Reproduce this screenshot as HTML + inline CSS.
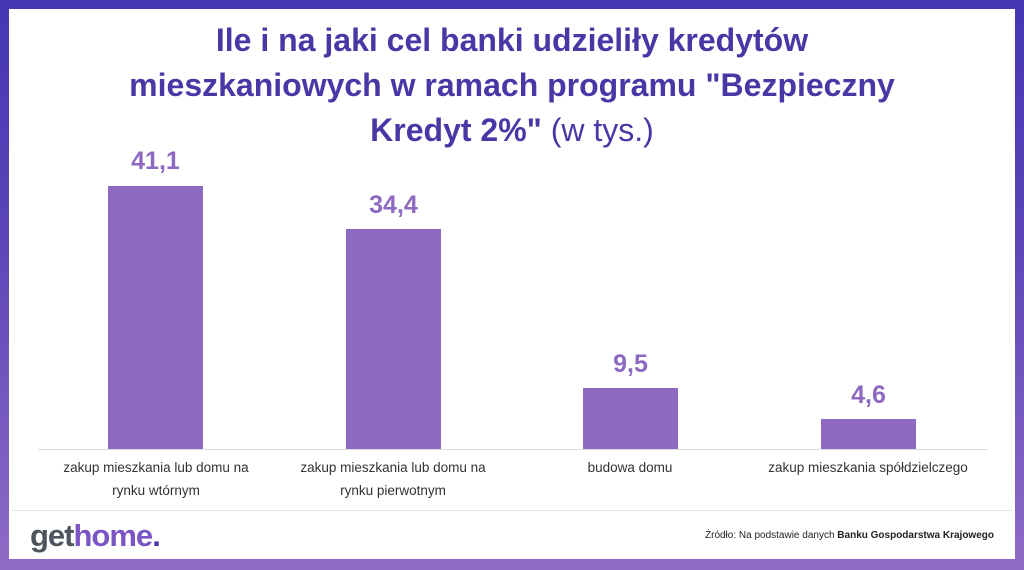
<!DOCTYPE html>
<html><head><meta charset="utf-8"><style>
body{margin:0;width:1024px;height:570px;background:linear-gradient(#4636b4,#5a44b8 40%,#8f6bc6);font-family:"Liberation Sans","DejaVu Sans",sans-serif;position:relative;overflow:hidden}
.in{position:absolute;left:9px;top:9px;width:1006px;height:550px;background:#fff}
.t{position:absolute;left:0;width:1024px;text-align:center;color:#4a37a6;font-weight:bold;font-size:32px;line-height:41px}
.bar{position:absolute;background:#8e69c1;width:95px}
.v{position:absolute;width:95px;text-align:center;color:#8e69c1;font-weight:bold;font-size:25px}
.l{position:absolute;width:240px;text-align:center;color:#333;font-size:13.5px;line-height:23px}
</style></head><body>
<div class="in"></div>
<div class="t" style="top:20px">Ile i na jaki cel banki udzieliły kredytów</div>
<div class="t" style="top:65px">mieszkaniowych w ramach programu "Bezpieczny</div>
<div class="t" style="top:110px">Kredyt 2%" <span style="font-weight:normal">(w tys.)</span></div>
<div style="position:absolute;left:38px;top:449px;width:950px;height:1px;background:#ddd"></div>
<div class="bar" style="left:108px;top:186px;height:263px"></div>
<div class="bar" style="left:346px;top:229px;height:220px"></div>
<div class="bar" style="left:583px;top:388px;height:61px"></div>
<div class="bar" style="left:821px;top:419px;height:30px"></div>
<div class="v" style="left:108px;top:147px">41,1</div>
<div class="v" style="left:346px;top:191px">34,4</div>
<div class="v" style="left:583px;top:350px">9,5</div>
<div class="v" style="left:821px;top:381px">4,6</div>
<div class="l" style="left:36px;top:456px">zakup mieszkania lub domu na<br>rynku wtórnym</div>
<div class="l" style="left:273px;top:456px">zakup mieszkania lub domu na<br>rynku pierwotnym</div>
<div class="l" style="left:510px;top:456px">budowa domu</div>
<div class="l" style="left:748px;top:456px">zakup mieszkania spółdzielczego</div>
<div style="position:absolute;left:12px;top:510px;width:1000px;height:1px;background:#e4e4e4"></div>
<div style="position:absolute;left:30px;top:518px;font-size:31px;font-weight:bold;letter-spacing:-1px;color:#4c545e">get<span style="color:#7a55c6">home</span><span style="color:#4a37a6">.</span></div>
<div style="position:absolute;right:30px;top:530px;font-size:10px;color:#222">Źródło: Na podstawie danych <b>Banku Gospodarstwa Krajowego</b></div>
</body></html>
